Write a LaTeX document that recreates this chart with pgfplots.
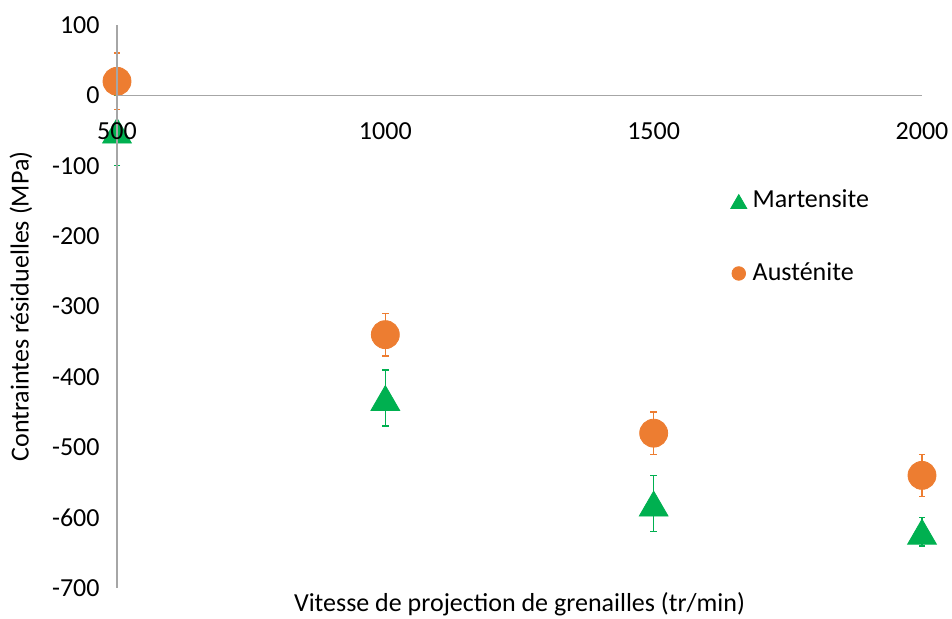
\documentclass[border=0pt]{standalone}
\usepackage{fontspec}
\setmainfont{Carlito}
\usepackage{pgfplots}
\pgfplotsset{compat=1.18}
\definecolor{mgreen}{HTML}{00B050}
\definecolor{aorange}{HTML}{ED7D31}
\definecolor{axgray}{HTML}{A6A6A6}
\newcommand{\chartfont}{\fontsize{13}{15.6}\selectfont}
% axis lines at the bottom, plots under the tick labels, as in the reference
\pgfplotsset{layers/marksunder/.define layer set={axis lines,axis background,axis grid,axis ticks,pre main,axis tick labels,main,axis descriptions,axis foreground}{}}

\begin{document}
\begin{tikzpicture}
\begin{axis}[
  set layers=marksunder,
  scale only axis,
  width=402.5pt, height=281.5pt,
  xmin=500, xmax=2000, ymin=-700, ymax=100,
  axis x line=middle, axis y line=left,
  axis line style={-, draw=axgray, line width=0.6pt},
  hide obscured x ticks=false, hide obscured y ticks=false,
  xtick={500,1000,1500,2000}, ytick={-700,-600,...,100},
  major tick length=0pt,
  scaled ticks=false,
  /pgf/number format/1000 sep={},
  /pgf/number format/assume math mode=true,
  tick label style={font=\chartfont, text=black},
  xticklabel style={anchor=north, inner ysep=0pt, yshift=-13.5pt},
  yticklabel style={anchor=east, inner xsep=0pt, xshift=-8.5pt},
  xlabel={Vitesse de projection de grenailles (tr/min)},
  ylabel={Contraintes résiduelles (MPa)},
  every axis x label/.style={at={(axis description cs:0.5,0)}, anchor=base, yshift=-12pt, font=\chartfont},
  every axis y label/.style={at={(axis description cs:-0.1193,0.5)}, anchor=center, rotate=90, font=\chartfont},
  clip=false,
  legend style={draw=none, fill=none, font=\chartfont,
    at={(rel axis cs:0.762,0.7145)}, anchor=north west,
    row sep=23.5pt, inner sep=0pt, nodes={inner ysep=1.5pt, inner xsep=3pt, anchor=west}},
  legend cell align=left,
]
% Martensite
\addplot[on layer=pre main, mark layer=like plot, only marks, mark=triangle*, mark size=8.3pt, color=mgreen,
  mark options={yshift=-2.1pt},
  legend image code/.code={\draw[mgreen] plot[mark=triangle*, mark size=4.6pt] coordinates {(0.2cm,0cm)};},
  error bars/.cd, y dir=both, y explicit, error mark=-,
  error bar style={line width=0.75pt, draw=mgreen},
  error mark options={rotate=90, mark size=1.6pt, line width=0.75pt, draw=mgreen}]
  coordinates {(500,-50) +- (0,50) (1000,-430) +- (0,40) (1500,-580) +- (0,40) (2000,-620) +- (0,20)};
\addlegendentry{Martensite}
% Austenite
\addplot[on layer=pre main, mark layer=like plot, only marks, mark=*, mark size=7pt, color=aorange,
  legend image code/.code={\draw[aorange] plot[mark=*, mark size=3.4pt] coordinates {(0.2cm,0cm)};},
  error bars/.cd, y dir=both, y explicit, error mark=-,
  error bar style={line width=0.75pt, draw=aorange},
  error mark options={rotate=90, mark size=1.6pt, line width=0.75pt, draw=aorange}]
  coordinates {(500,20) +- (0,40) (1000,-340) +- (0,30) (1500,-480) +- (0,30) (2000,-540) +- (0,30)};
\addlegendentry{Austénite}
\coordinate (sw) at (rel axis cs:0,0);
\coordinate (ne) at (rel axis cs:1,1);
\end{axis}
\pgfresetboundingbox
\useasboundingbox ([shift={(-58.5pt,-15.5pt)}]sw) rectangle ([shift={(15pt,12.5pt)}]ne);
\end{tikzpicture}
\end{document}
